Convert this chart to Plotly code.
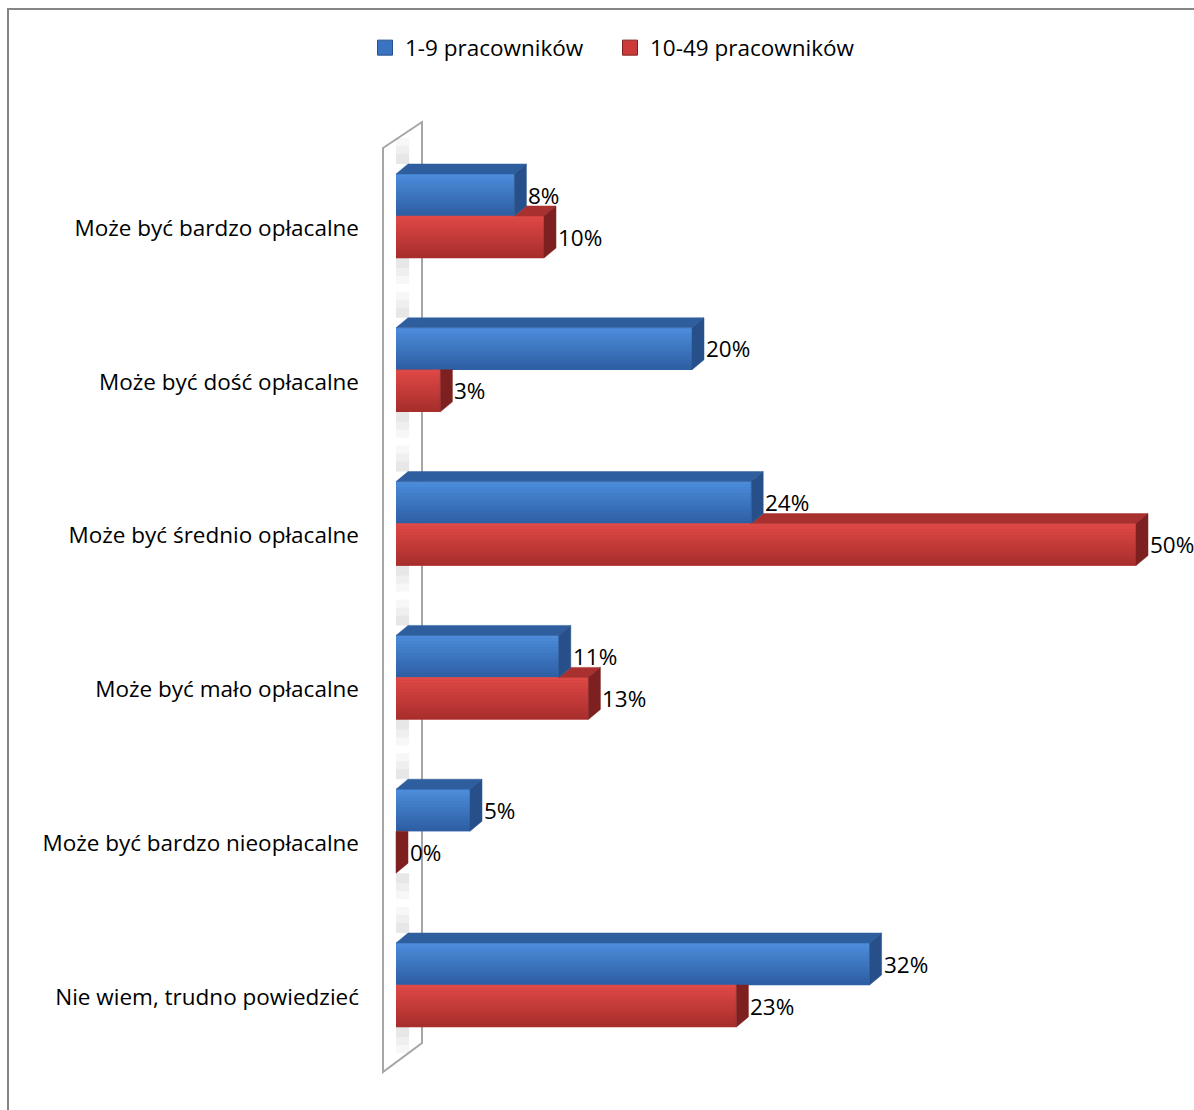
import plotly.graph_objects as go

# ---------------- data ----------------
categories = [
    "Może być bardzo opłacalne",
    "Może być dość opłacalne",
    "Może być średnio opłacalne",
    "Może być mało opłacalne",
    "Może być bardzo nieopłacalne",
    "Nie wiem, trudno powiedzieć",
]
series1_name = "1-9 pracowników"
series1_values = [8, 20, 24, 11, 5, 32]
series2_name = "10-49 pracowników"
series2_values = [10, 3, 50, 13, 0, 23]

# ---------------- geometry / style ----------------
W, H = 1194, 1110
PL, PR, PT, PB = 370, 1194, 110, 1085        # plot area in pixels
PX_PER_PCT = 14.8
X0_PX = 396
CAT0_PX = 228
CAT_STEP = 153.8

x_range = [(PL - X0_PX) / PX_PER_PCT, (PR - X0_PX) / PX_PER_PCT]
y_range = [(PB - CAT0_PX) / CAT_STEP, (PT - CAT0_PX) / CAT_STEP]

BAR_W = 42 / CAT_STEP
OFF1 = -33 / CAT_STEP
OFF2 = OFF1 + BAR_W
DX = 12 / PX_PER_PCT        # 3D depth in x (data units)
DY = 10 / CAT_STEP          # 3D depth in y (data units)

BLUE_FRONT, BLUE_TOP, BLUE_SIDE = "#3A73C2", "#2F5E9F", "#27508A"
RED_FRONT, RED_TOP, RED_SIDE = "#CC3B3A", "#A8302E", "#7E2020"
FONT = "Open Sans"
FS = 22.5


def lerp_col(c_a, c_b, t):
    a = [int(c_a[i:i + 2], 16) for i in (1, 3, 5)]
    b = [int(c_b[i:i + 2], 16) for i in (1, 3, 5)]
    return "#" + "".join(f"{round(a[i] + (b[i] - a[i]) * t):02X}" for i in range(3))


NB = 14
BLUE_BANDS = [lerp_col("#4C8CDA", "#2E5FA4", k / (NB - 1)) for k in range(NB)]
RED_BANDS = [lerp_col("#DE4846", "#A82E2C", k / (NB - 1)) for k in range(NB)]

idx = list(range(len(categories)))
c1 = [i + OFF1 for i in idx]
c2 = [i + OFF2 for i in idx]
h = BAR_W / 2


def poly_add(xs, ys, pts):
    for px, py in pts:
        xs.append(px)
        ys.append(py)
    xs.append(pts[0][0]); ys.append(pts[0][1])
    xs.append(None); ys.append(None)


# faces for series 1 (blue) - fully visible
b_top_x, b_top_y, b_side_x, b_side_y = [], [], [], []
for v, c in zip(series1_values, c1):
    top = c - h
    bot = c + h
    poly_add(b_top_x, b_top_y, [(0, top), (v, top), (v + DX, top - DY), (DX, top - DY)])
    poly_add(b_side_x, b_side_y, [(v, top), (v + DX, top - DY), (v + DX, bot - DY), (v, bot)])

# faces for series 2 (red) - clipped behind blue bars
r_top_x, r_top_y, r_side_x, r_side_y = [], [], [], []
for v, vb, c in zip(series2_values, series1_values, c2):
    top = c - h
    bot = c + h
    if v > vb:
        poly_add(r_top_x, r_top_y, [(vb, top), (v, top), (v + DX, top - DY), (vb + DX, top - DY)])
        poly_add(r_side_x, r_side_y, [(v, top), (v + DX, top - DY), (v + DX, bot - DY), (v, bot)])
    else:
        poly_add(r_side_x, r_side_y, [(v, top), (v + DX, top), (v + DX, bot - DY), (v, bot)])

fig = go.Figure()

# wall shadows behind each bar pair (fading in steps)
for step, alpha in [(1.0, 0.03), (1.8, 0.03), (2.6, 0.03)]:
    sh_x, sh_y = [], []
    for a, b in zip(c1, c2):
        top = a - h - DY
        bot = b + h
        poly_add(sh_x, sh_y, [(0, top - step * DY), (DX * 1.1, top - step * DY), (DX * 1.1, top), (0, top)])
        poly_add(sh_x, sh_y, [(0, bot), (DX * 1.1, bot), (DX * 1.1, bot + step * DY), (0, bot + step * DY)])
    fig.add_trace(go.Scatter(
        x=sh_x, y=sh_y, mode="lines", fill="toself", fillcolor=f"rgba(0,0,0,{alpha})",
        line=dict(width=0), showlegend=False, hoverinfo="skip",
    ))

for name, vals, cs, base_col, bands in [
    (series1_name, series1_values, c1, BLUE_FRONT, BLUE_BANDS),
    (series2_name, series2_values, c2, RED_FRONT, RED_BANDS),
]:
    fig.add_trace(go.Bar(
        name=name, y=cs, x=vals, orientation="h", width=BAR_W, base=0,
        marker=dict(color=base_col, line=dict(width=0)), hoverinfo="x",
        showlegend=False,
    ))
    bw = BAR_W / NB
    for k, col in enumerate(bands):
        fig.add_trace(go.Bar(
            y=[c - h + bw * (k + 0.5) for c in cs], x=vals, orientation="h",
            width=bw * 1.1, base=0, marker=dict(color=col, line=dict(width=0)),
            showlegend=False, hoverinfo="skip",
        ))

for xs, ys, col in [(r_top_x, r_top_y, RED_TOP), (r_side_x, r_side_y, RED_SIDE),
                    (b_top_x, b_top_y, BLUE_TOP), (b_side_x, b_side_y, BLUE_SIDE)]:
    fig.add_trace(go.Scatter(
        x=xs, y=ys, mode="lines", fill="toself", fillcolor=col,
        line=dict(color=col, width=0.5), showlegend=False, hoverinfo="skip",
    ))

# legend entries (square markers)
for name, col, edge in [(series1_name, BLUE_FRONT, BLUE_SIDE), (series2_name, RED_FRONT, RED_SIDE)]:
    fig.add_trace(go.Scatter(
        x=[None], y=[None], mode="markers", name=name,
        marker=dict(symbol="square", size=15, color=col, line=dict(color=edge, width=1)),
    ))

# value labels
for vals, cs in [(series1_values, c1), (series2_values, c2)]:
    for v, c in zip(vals, cs):
        fig.add_annotation(
            x=v, y=c, text=f"{v}%", showarrow=False, xanchor="left", yanchor="middle",
            xshift=12, font=dict(family=FONT, size=FS, color="#000000"),
        )

# back wall (parallelogram)
wf = (383 - X0_PX) / PX_PER_PCT
wb = (422 - X0_PX) / PX_PER_PCT
y_tf = (148 - CAT0_PX) / CAT_STEP
y_tb = (122 - CAT0_PX) / CAT_STEP
y_bf = (1072 - CAT0_PX) / CAT_STEP
y_bb = (1043 - CAT0_PX) / CAT_STEP
fig.add_shape(
    type="path", xref="x", yref="y", layer="below",
    path=f"M {wf},{y_tf} L {wb},{y_tb} L {wb},{y_bb} L {wf},{y_bf} Z",
    line=dict(color="#A6A6A6", width=2), fillcolor="rgba(0,0,0,0)",
)

# chart border
pw, ph = PR - PL, PB - PT
fig.add_shape(
    type="rect", xref="paper", yref="paper",
    x0=(8 - PL) / pw, x1=(W + 6 - PL) / pw,
    y0=(PB - (H + 6)) / ph, y1=(PB - 9) / ph,
    line=dict(color="#868686", width=2), fillcolor="rgba(0,0,0,0)",
)

fig.update_layout(
    width=W, height=H,
    margin=dict(l=PL, r=W - PR, t=PT, b=H - PB),
    paper_bgcolor="white", plot_bgcolor="white",
    barmode="overlay",
    font=dict(family=FONT, size=FS, color="#000000"),
    xaxis=dict(range=x_range, visible=False, showgrid=False, zeroline=False, fixedrange=True),
    yaxis=dict(
        range=y_range, tickvals=idx, ticktext=categories, showgrid=False, zeroline=False,
        showline=False, ticks="", ticklabelstandoff=PL - 360,
        tickfont=dict(family=FONT, size=FS, color="#000000"),
    ),
    legend=dict(
        orientation="h", x=(610 - PL) / pw, xanchor="center",
        y=(PB - 48) / ph, yanchor="middle",
        font=dict(family=FONT, size=FS, color="#000000"),
        bgcolor="rgba(0,0,0,0)", traceorder="normal", itemwidth=30,
        entrywidth=200, entrywidthmode="pixels",
    ),
    showlegend=True,
)

fig.write_html("out.html")
